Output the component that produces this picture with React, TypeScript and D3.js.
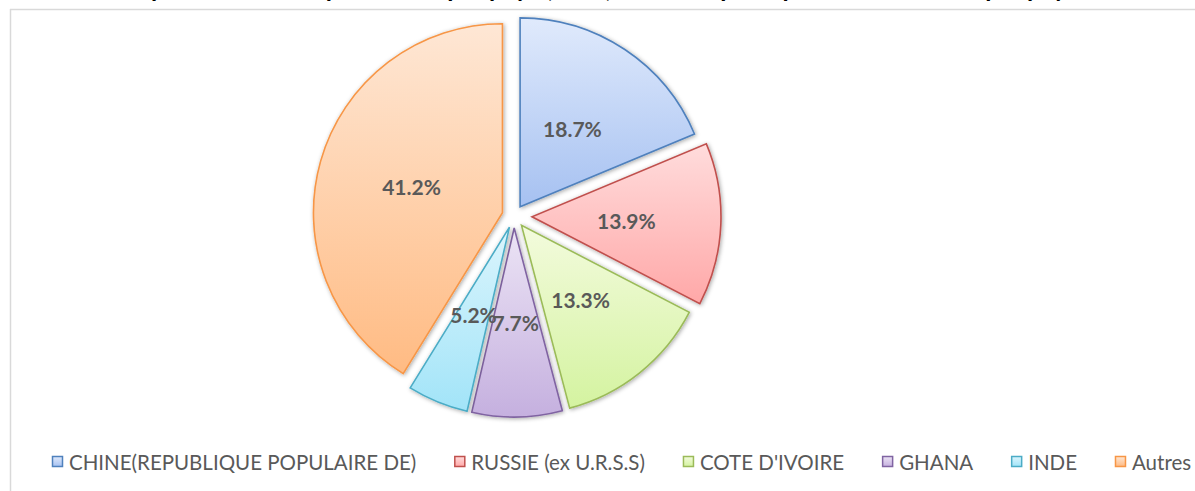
import React from 'react';
import * as d3 from 'd3';

const categories = [
  "CHINE(REPUBLIQUE POPULAIRE DE)",
  "RUSSIE (ex U.R.S.S)",
  "COTE D'IVOIRE",
  "GHANA",
  "INDE",
  "Autres",
];
const values = [18.7, 13.9, 13.3, 7.7, 5.2, 41.2];
const strokeColors = ["#4f81bd", "#c0504d", "#9bbb59", "#8064a2", "#4bacc6", "#f79646"];
const topColors = ["#e0eafc", "#ffdcdc", "#f3fbdd", "#ece4f5", "#dbf5fd", "#fee7d5"];
const bottomColors = ["#a6c1f1", "#ffa8a8", "#d4f3a0", "#c5b0df", "#a2e4f8", "#ffbb83"];
const explodeBy = [11, 18, 12, 12, 12, 12];
const titleText = "Répartition des importations par pays (en %) selon les principaux fournisseurs par pays";

const W = 1195;
const H = 491;

function measure(text: string, font: string): number {
  const c = document.createElement('canvas').getContext('2d');
  if (!c) return text.length * 10;
  c.font = font;
  return c.measureText(text).width;
}

export default function App() {
  const cx = 514;
  const cy = 216;
  const r = 189;

  const arcs = d3.pie<number>().sort(null).value((d) => d)(values);
  const arcGen = d3.arc<d3.PieArcDatum<number>>().innerRadius(0).outerRadius(r);

  const legendFontSize = 20.5;
  const legendFont = `${legendFontSize}px Lato`;
  const legendY = 462;
  const marker = 11;
  let lx = 52;
  const legendItems = categories.map((c, i) => {
    const x = lx;
    const w = measure(c, legendFont);
    lx += marker + 6 + w + 38;
    return { c, i, x };
  });

  const offset = (i: number, a: d3.PieArcDatum<number>) => {
    const mid = (a.startAngle + a.endAngle) / 2;
    return [Math.sin(mid) * explodeBy[i], -Math.cos(mid) * explodeBy[i]];
  };

  return (
    <svg width={W} height={H} style={{ position: 'absolute', left: 0, top: 0, background: '#fff' }}
      fontFamily="Lato, 'Open Sans', sans-serif">
      <defs>
        {categories.map((_, i) => (
          <linearGradient key={i} id={`g${i}`} x1="0" y1="0" x2="0" y2="1">
            <stop offset="0" stopColor={topColors[i]} />
            <stop offset="1" stopColor={bottomColors[i]} />
          </linearGradient>
        ))}
        <filter id="sh" x="-20%" y="-20%" width="140%" height="140%">
          <feDropShadow dx="1" dy="1" stdDeviation="2" floodColor="#000" floodOpacity="0.35" />
        </filter>
      </defs>
      <rect x={0} y={0} width={W} height={H} fill="#fff" />
      <text x={600} y={-3} textAnchor="middle" fontFamily="Lato, sans-serif" fontWeight="bold" fontSize={25} fill="#000">
        {titleText}
      </text>
      <line x1={10} y1={9.5} x2={W} y2={9.5} stroke="#d9d9d9" strokeWidth={1.5} />
      <line x1={10.5} y1={9} x2={10.5} y2={H} stroke="#d9d9d9" strokeWidth={1.5} />

      {arcs.map((a, i) => {
        const [dx, dy] = offset(i, a);
        return (
          <g key={i} transform={`translate(${cx + dx},${cy + dy})`}>
            <path d={arcGen(a) || ''} fill={`url(#g${i})`} stroke={strokeColors[i]} strokeWidth={1.6}
              strokeLinejoin="miter" filter="url(#sh)" />
          </g>
        );
      })}
      {arcs.map((a, i) => {
        const [dx, dy] = offset(i, a);
        const [px, py] = arcGen.centroid(a);
        return (
          <text key={i} x={cx + dx + px} y={cy + dy + py} textAnchor="middle" dominantBaseline="central"
            fontWeight="bold" fontSize={21} fill="#595959">
            {`${values[i].toFixed(1)}%`}
          </text>
        );
      })}

      {legendItems.map(({ c, i, x }) => (
        <g key={i}>
          <rect x={x + 0.5} y={legendY - marker / 2} width={marker - 1} height={marker - 1}
            fill={`url(#g${i})`} stroke={strokeColors[i]} strokeWidth={1.5} />
          <text x={x + marker + 6} y={legendY} dominantBaseline="central" fontSize={legendFontSize}
            fill="#595959">{c}</text>
        </g>
      ))}
    </svg>
  );
}
